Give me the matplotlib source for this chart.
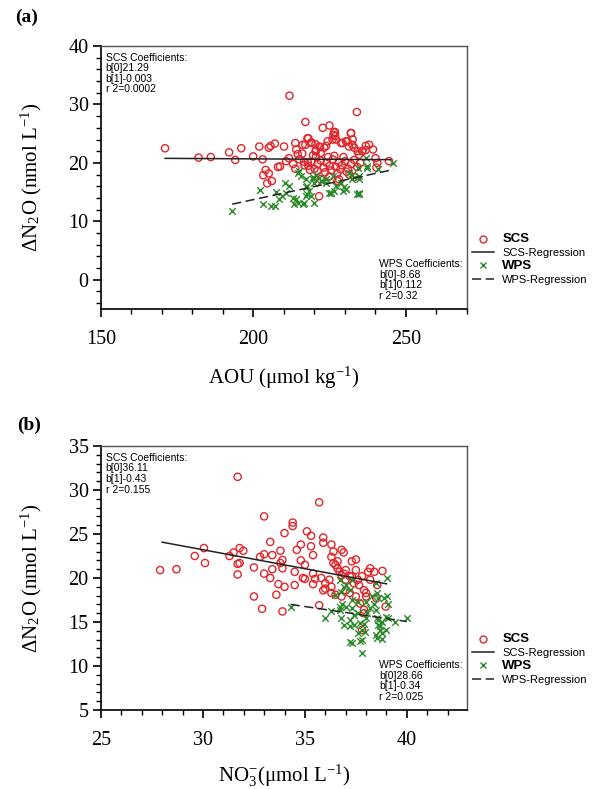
import matplotlib
matplotlib.use("Agg")
import matplotlib.pyplot as plt
from matplotlib.lines import Line2D
from matplotlib.ticker import MultipleLocator

plt.rcParams['font.family'] = ['Liberation Serif', 'DejaVu Serif']
plt.rcParams['mathtext.fontset'] = 'stix'

# ---------------- Panel (a): AOU vs dN2O ----------------
aou_scs = [171, 182, 186, 192, 194, 196, 199.9, 201.9, 203, 205, 205.6, 207, 210, 204, 205, 203.2,
           206, 204.5, 208, 208.7, 210.7, 211.6, 211.8, 213.7, 214, 214.5, 215, 213, 213.7, 216.7,
           217.8, 216, 217, 218, 219, 220.3, 220.5, 221.8, 222.7, 224.9, 220.5, 222, 223.8, 224.3,
           226.2, 226.7, 227, 228.7, 230.3, 232, 232.5, 234.1, 235.7, 236.8, 233.9, 217, 226.4,
           226.8, 225.9, 231.9, 217.7, 216.1, 218.8, 221.5, 223.2, 220.4, 229.2, 230.8, 231.3, 232.4,
           233, 237.9, 239.2, 236.8, 240, 240.6, 240.3, 244.4, 234.6, 235.7, 233, 227.5, 221.5, 222,
           224.9, 228, 231.4, 218, 219, 220, 221, 222, 223, 224, 225, 225.5, 226, 227, 228, 228.5,
           229, 230, 231, 232, 233, 234, 235, 224.5, 226.5, 229.5, 221, 223.5, 227.5, 230.5, 219.5,
           216.5, 218.5]
dn2o_a_scs = [22.5, 20.9, 21.0, 21.8, 20.5, 22.5, 21.1, 22.8, 20.6, 22.6, 22.9, 23.3, 22.8, 18.8, 18.2, 17.9,
              16.9, 16.5, 19.3, 19.4, 20.3, 20.8, 31.5, 23.4, 22.3, 21.5, 20.6, 19.8, 19.0, 19.6,
              20.1, 21.6, 23.1, 24.2, 23.5, 23.2, 22.2, 22.7, 26.0, 26.4, 21.1, 21.7, 22.9, 23.7,
              24.8, 25.3, 24.0, 23.4, 23.7, 25.1, 24.0, 22.0, 22.0, 22.9, 28.7, 27.0, 25.2,
              24.6, 24.0, 25.1, 24.2, 23.1, 23.4, 22.8, 22.6, 22.0, 23.4, 23.7, 22.8, 23.1,
              22.6, 23.1, 22.3, 22.2, 20.8, 20.0, 19.2, 20.3, 21.4, 22.0, 17.6, 16.9, 14.3, 17.2,
              17.7, 17.2, 18.0, 19.5, 20.2, 19.0, 19.8, 20.4, 19.2, 20.0, 19.5, 18.7, 20.6, 19.3, 20.1, 18.9,
              19.6, 20.3, 19.0, 19.8, 20.5, 19.3, 20.0, 21.0, 21.2, 21.0, 18.6, 18.4, 18.2, 18.5, 21.3,
              20.2, 18.8]

aou_wps = [192.9, 202, 203, 205.8, 207, 207.3, 208.5, 209.5, 210.4, 211.7, 210.7, 212.8, 213.9, 213.4,
           214.5, 216.1, 214.5, 215.6, 217.2, 217.7, 218.3, 217.7, 217.2, 218.8, 219.4, 219.9, 220.5,
           221.6, 222.6, 223.7, 224.8, 225.4, 226.5, 229.2, 229.7, 231.4, 232.4, 234.6, 234.6, 237.3,
           216.6, 219.9, 217.2, 215.0, 219.4, 222.1, 223.8, 226.0, 227.0, 228.7, 230.3, 234.1, 234.7,
           234.7, 236.8, 245.8, 237.1, 240.9, 234, 232.4, 225.3, 230.3]
dn2o_a_wps = [11.7, 15.4, 12.9, 12.7, 12.7, 15.0, 13.8, 14.3, 16.5, 16.0, 14.9, 14.0, 13.8, 12.9,
              13.2, 12.9, 18.3, 17.7, 17.2, 16.0, 15.2, 14.6, 14.3, 14.3, 17.2, 16.6, 18.0,
              17.5, 16.9, 16.6, 14.9, 14.9, 15.2, 15.2, 15.8, 18.3, 18.0, 17.2, 14.9, 19.4,
              13.2, 13.2, 15.8, 18.6, 17.6, 16.9, 17.2, 17.7, 16.0, 16.6, 15.5, 19.2, 17.7,
              14.6, 20.9, 20.0, 19.2, 18.9, 14.7, 17.2, 14.9, 15.5]

coef_a_scs = (21.29, -0.003)
coef_a_wps = (-8.68, 0.112)
range_a_scs = (171, 245)
range_a_wps = (193, 246)
text_a_scs = "SCS Coefficients:\nb[0]21.29\nb[1]-0.003\nr 2=0.0002"
text_a_wps = "WPS Coefficients:\nb[0]-8.68\nb[1]0.112\nr 2=0.32"

# ---------------- Panel (b): NO3 vs dN2O ----------------
no3_scs = [31.7, 33.0, 27.9, 28.7, 29.6, 30.05, 30.1, 31.7, 31.7, 31.3, 31.5, 31.8, 31.98, 32.5, 32.5,
           35.7, 34.4, 34.4, 34.0, 35.1, 35.3, 35.9, 35.9, 36.3, 36.4, 36.8, 36.9, 33.3, 31.8,
           32.8, 33.0, 33.4, 33.8, 33.9, 33.8, 33.9, 33.4, 33.0, 33.3, 33.6, 32.9, 33.9, 33.7, 34.0,
           34.6, 34.8, 35.3, 35.4, 34.8, 34.5, 34.9, 35.0, 35.4, 35.5, 34.5, 35.4, 35.8, 35.9, 36.0,
           35.7, 36.3, 36.4, 36.6, 36.7, 36.9, 37.0, 37.3, 37.5, 37.5, 37.3, 37.4, 37.0, 36.3, 36.5,
           36.2, 38.8, 38.55, 38.5, 38.96, 37.9, 37.8, 35.0, 36.0, 36.5, 36.6, 36.8, 37.0, 37.2,
           37.6, 37.65, 37.8, 37.9, 38.0, 38.1, 38.2, 38.4, 38.2, 36.3, 36.8, 37.2, 37.5, 37.7, 38.0,
           37.9]
dn2o_b_scs = [31.5, 27.0, 20.9, 21.0, 22.5, 23.4, 21.7, 20.4, 21.6, 22.5, 22.9, 23.4, 23.1, 17.9, 21.2,
              28.6, 26.3, 25.9, 25.1, 25.3, 24.8, 24.6, 24.0, 23.8, 23.0, 23.2, 22.9, 24.1, 21.7,
              22.4, 22.7, 22.6, 23.1, 22.05, 21.7, 21.1, 21.0, 20.5, 20.0, 18.1, 16.5, 16.2, 19.3, 19.0,
              23.2, 23.8, 23.6, 22.6, 22.0, 20.7, 20.0, 19.9, 20.5, 19.9, 19.2, 19.3, 20.0, 18.6, 19.4,
              16.9, 22.4, 21.7, 21.1, 20.7, 20.5, 19.8, 21.9, 22.1, 20.9, 20.2, 19.4, 18.6, 19.0, 18.1,
              19.8, 20.8, 19.2, 17.7, 16.75, 16.0, 14.1, 21.5, 18.8, 21.5, 21.9, 20.3, 20.9, 20.2,
              19.8, 19.2, 20.2, 18.6, 18.3, 20.7, 21.1, 20.7, 19.8, 18.3, 17.9, 18.3, 17.9, 17.1, 17.9,
              16.4]

no3_wps = [34.3, 36.0, 36.3, 39.04, 40.0, 37.8, 37.2, 37.3, 37.7, 37.8, 36.75, 36.9, 37.2, 37.2, 37.4,
           36.7, 36.8, 37.3, 37.6, 37.7, 37.8, 38.0, 38.06, 38.2, 38.4, 38.5, 38.55, 38.6, 38.7, 38.5,
           38.55, 38.8, 38.9, 39.1, 38.96, 36.5, 36.75, 36.9, 37.2, 37.3, 37.6, 36.7, 37.0, 37.3, 38.0,
           38.3, 38.55, 38.6, 39.04, 38.5, 37.4, 37.9, 37.6, 37.97, 38.6, 38.7, 38.8, 38.96, 38.8,
           39.1, 39.4, 36.7, 37.0]
dn2o_b_wps = [16.7, 15.4, 16.2, 20.0, 15.5, 11.5, 12.7, 12.6, 12.8, 13.0, 15.4, 14.7, 14.5, 15.2, 15.8,
              16.75, 17.1, 16.6, 16.0, 14.85, 14.1, 15.4, 16.0, 16.6, 17.1, 16.4, 15.4, 14.7, 14.1, 13.5,
              13.15, 15.0, 17.7, 17.0, 15.6, 18.1, 18.45, 19.0, 18.6, 17.5, 17.3, 19.8, 19.2, 19.8, 17.3,
              17.9, 18.3, 17.7, 17.9, 19.4, 14.7, 14.8, 13.7, 13.9, 15.2, 14.5, 13.7, 14.1, 13.1,
              15.4, 15.0, 16.4, 16.7]

coef_b_scs = (36.11, -0.43)
coef_b_wps = (28.66, -0.34)
range_b_scs = (28, 39)
range_b_wps = (34.3, 40)
text_b_scs = "SCS Coefficients:\nb[0]36.11\nb[1]-0.43\nr 2=0.155"
text_b_wps = "WPS Coefficients:\nb[0]28.66\nb[1]-0.34\nr 2=0.025"

RED = '#e0262b'
GREEN = '#2a8a2a'
LINEC = '#222222'

W, H = 596, 789
fig = plt.figure(figsize=(W / 100, H / 100), dpi=100)


def px_rect(l, t, r, b):
    return [l / W, 1 - b / H, (r - l) / W, (b - t) / H]


def style_axes(ax):
    for s in ['left', 'bottom']:
        ax.spines[s].set_linewidth(1.3)
        ax.spines[s].set_color('#111111')
    for s in ['top', 'right']:
        ax.spines[s].set_linewidth(1.0)
        ax.spines[s].set_color('#555555')
    ax.tick_params(which='major', direction='out', length=6, width=1.2, labelsize=14.5,
                   top=False, right=False, pad=3)
    ax.tick_params(axis='x', which='major', pad=9)
    ax.tick_params(which='minor', direction='out', length=3.5, width=1.0, top=False, right=False)


def draw_panel(ax, xs, ys, xw, yw, cs, cw, rs, rw, ts, tw):
    ax.scatter(xs, ys, s=27, facecolors='none', edgecolors=RED, linewidths=1.0, zorder=3)
    ax.scatter(xw, yw, s=22, marker='x', color=GREEN, linewidths=1.0, zorder=3)
    ax.plot(list(rs), [cs[0] + cs[1] * v for v in rs], color=LINEC, lw=1.1, zorder=4)
    ax.plot(list(rw), [cw[0] + cw[1] * v for v in rw], color=LINEC, lw=1.1,
            dashes=(6, 3), zorder=4)
    ax.text(0.013, 0.975, ts, transform=ax.transAxes, ha='left', va='top',
            fontsize=7.5, family=['Liberation Sans'], linespacing=1.08)
    ax.text(0.76, 0.03, tw, transform=ax.transAxes, ha='left', va='bottom',
            fontsize=7.5, family=['Liberation Sans'], linespacing=1.08)


def add_legend(ax, top_px):
    handles = [
        Line2D([], [], ls='none', marker='o', mfc='none', mec=RED, ms=5, mew=1.0),
        Line2D([], [], color=LINEC, lw=1.1),
        Line2D([], [], ls='none', marker='x', color=GREEN, ms=4.5, mew=1.0),
        Line2D([], [], color=LINEC, lw=1.1, dashes=(6, 3)),
    ]
    labels = ['SCS', 'SCS-Regression', 'WPS', 'WPS-Regression']
    leg = ax.legend(handles, labels, loc='upper left', bbox_to_anchor=(468 / W, 1 - top_px / H),
                    bbox_transform=fig.transFigure, frameon=False, handlelength=1.9,
                    handletextpad=0.8, labelspacing=0.22, borderaxespad=0,
                    prop={'family': 'Liberation Sans', 'size': 8})
    for i, t in enumerate(leg.get_texts()):
        if i in (0, 2):
            t.set_fontweight('bold')
            t.set_fontsize(9.5)
    return leg


# Panel (a)
ax1 = fig.add_axes(px_rect(101, 46, 467, 309))
style_axes(ax1)
draw_panel(ax1, aou_scs, dn2o_a_scs, aou_wps, dn2o_a_wps, coef_a_scs, coef_a_wps,
           range_a_scs, range_a_wps, text_a_scs, text_a_wps)
ax1.set_xlim(150, 270)
ax1.set_ylim(-5, 40)
ax1.set_xticks([150, 200, 250])
ax1.xaxis.set_minor_locator(MultipleLocator(10))
ax1.set_yticks([0, 10, 20, 30, 40])
ax1.yaxis.set_minor_locator(MultipleLocator(2))
ax1.set_xlabel('AOU (μmol kg$^{\\mathregular{-1}}$)', fontsize=15, labelpad=11)
ax1.set_ylabel('ΔN$_{\\mathregular{2}}$O (nmol L$^{\\mathregular{-1}}$)', fontsize=15)
ax1.yaxis.set_label_coords(-0.155, 0.5)
add_legend(ax1, 229)
fig.text(15 / W, 1 - 17 / H, '(a)', fontsize=14, fontweight='bold', ha='left', va='center')

# Panel (b)
ax2 = fig.add_axes(px_rect(101, 446, 467, 710))
style_axes(ax2)
draw_panel(ax2, no3_scs, dn2o_b_scs, no3_wps, dn2o_b_wps, coef_b_scs, coef_b_wps,
           range_b_scs, range_b_wps, text_b_scs, text_b_wps)
ax2.set_xlim(25, 42.95)
ax2.set_ylim(5, 35)
ax2.set_xticks([25, 30, 35, 40])
ax2.xaxis.set_minor_locator(MultipleLocator(1))
ax2.set_yticks([5, 10, 15, 20, 25, 30, 35])
ax2.yaxis.set_minor_locator(MultipleLocator(1))
ax2.set_xlabel('NO$_{\\mathregular{3}}^{\\mathregular{-}}$(μmol L$^{\\mathregular{-1}}$)', fontsize=15, labelpad=9)
ax2.set_ylabel('ΔN$_{\\mathregular{2}}$O (nmol L$^{\\mathregular{-1}}$)', fontsize=15)
ax2.yaxis.set_label_coords(-0.155, 0.5)
add_legend(ax2, 629)
fig.text(17 / W, 1 - 425 / H, '(b)', fontsize=14, fontweight='bold', ha='left', va='center')

fig.savefig('out.png', dpi=100)
